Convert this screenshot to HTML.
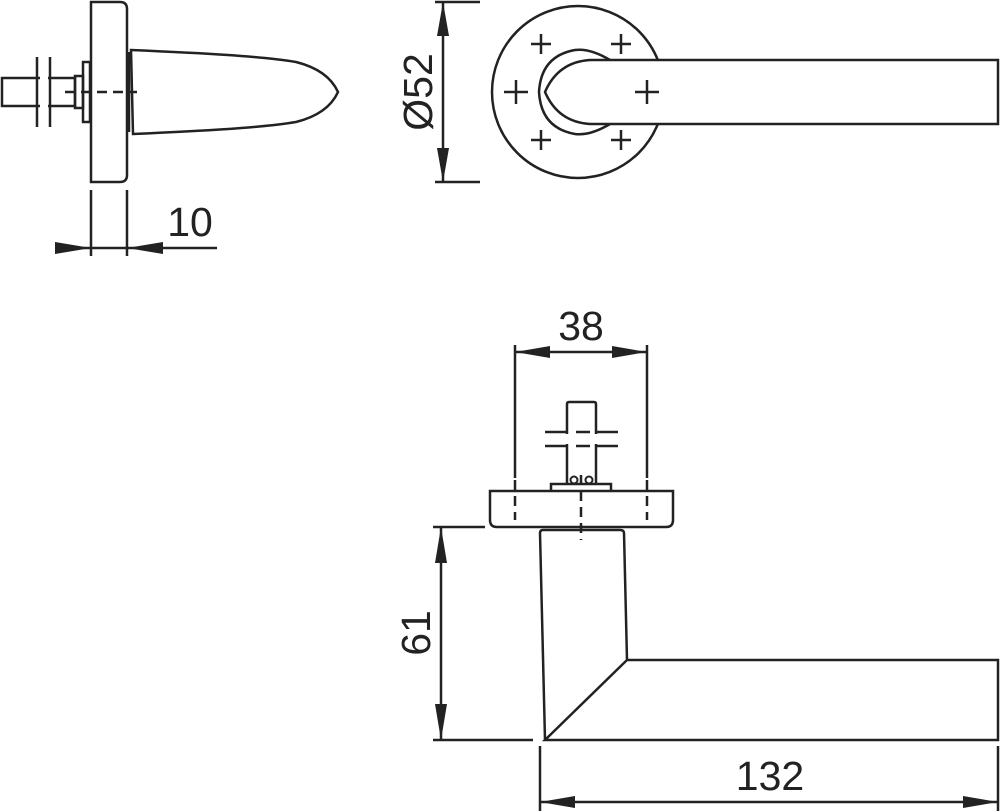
<!DOCTYPE html>
<html><head><style>body{margin:0;background:#fff}svg{display:block}</style></head><body>
<svg width="1000" height="811" viewBox="0 0 1000 811" xmlns="http://www.w3.org/2000/svg" fill="none" stroke="#222" stroke-width="2.5" font-family="Liberation Sans, sans-serif">
<!-- top-left side view -->
<path d="M91,2 H120 Q127,2 127,9 V175 Q127,182 120,182 H91 Z"/>
<path d="M131,50 C200,53 260,56 296,62 Q328,70 338,92 Q328,114 296,122 C260,128 200,131 133,134 Z"/>
<path d="M129,52 V132"/>
<path d="M2,78 H75 V106 H2 Z"/>
<path d="M75,76 H83 V108 H75 Z"/>
<path d="M83,62 H90 V122 H83 Z"/>
<g fill="#fff" stroke="none"><rect x="40" y="70" width="8" height="44"/></g>
<path d="M37,57 V127 M50,57 V127"/>
<path d="M65,92 H137" stroke-dasharray="10,6"/>
<path d="M91,190 V256 M127,190 V256 M55,248 H217"/>
<path d="M55,242 L91,248 L55,254 Z M163,242 L127,248 L163,254 Z" fill="#222" stroke="none"/>
<text x="190" y="236" font-size="41" fill="#222" stroke="none" text-anchor="middle">10</text>
<!-- top-right front view -->
<circle cx="578" cy="92" r="86"/>
<path d="M998,60 H590 Q558,62 545,92 Q558,122 590,124 H998 Z" fill="#fff"/>
<path d="M610,60 Q590,48 575,50 Q541,56 539,92 Q541,128 575,134 Q590,136 610,124"/>
<path d="M531,44 H551 M541,34 V54 M611,44 H631 M621,34 V54 M504,92 H528 M516,80 V104 M635,92 H659 M647,80 V104 M531,140 H551 M541,130 V150 M611,140 H631 M621,130 V150"/>
<path d="M443,2 V182 M435,2 H480 M435,182 H480"/>
<path d="M437,36 L443,2 L449,36 Z M437,148 L443,182 L449,148 Z" fill="#222" stroke="none"/>
<text transform="translate(432,92) rotate(-90)" font-size="41" fill="#222" stroke="none" text-anchor="middle">Ø52</text>
<!-- bottom view -->
<path d="M515,345 V478 M647,345 V478"/>
<path d="M515,480 V520 M647,480 V520" stroke-dasharray="10,6"/>
<path d="M515,352 H647"/>
<path d="M550,346 L515,352 L550,358 Z M612,346 L647,352 L612,358 Z" fill="#222" stroke="none"/>
<text x="581" y="340" font-size="41" fill="#222" stroke="none" text-anchor="middle">38</text>
<path d="M567,484 V404 Q567,402 569,402 H594 Q596,402 596,404 V484"/>
<g fill="#fff" stroke="none"><rect x="560" y="434" width="44" height="10"/></g>
<path d="M545,432 H566 M597,432 H618 M545,446 H566 M597,446 H618 M576,432 H590 M576,446 H590"/>
<circle cx="574" cy="480" r="3.5" stroke-width="2"/><circle cx="589" cy="480" r="3.5" stroke-width="2"/>
<path d="M551,491 V484 H611 V491"/>
<path d="M490,491 H673 V520 Q673,527 666,527 H497 Q490,527 490,520 Z"/>
<path d="M581,475 V540" stroke-dasharray="10,6"/>
<path d="M545,740 L540,533 Q540,530 543,530 H620 Q624,530 624,533 L627,660 H998 V740 H545 L627,660"/>
<path d="M441,527 V740 M433,527 H485 M433,740 H533"/>
<path d="M435,563 L441,527 L447,563 Z M435,704 L441,740 L447,704 Z" fill="#222" stroke="none"/>
<text transform="translate(430,633) rotate(-90)" font-size="41" fill="#222" stroke="none" text-anchor="middle">61</text>
<path d="M540,746 V811 M998,746 V811 M540,802 H998"/>
<path d="M575,796 L540,802 L575,808 Z M963,796 L998,802 L963,808 Z" fill="#222" stroke="none"/>
<text x="770" y="790" font-size="41" fill="#222" stroke="none" text-anchor="middle">132</text>
</svg>
</body></html>
